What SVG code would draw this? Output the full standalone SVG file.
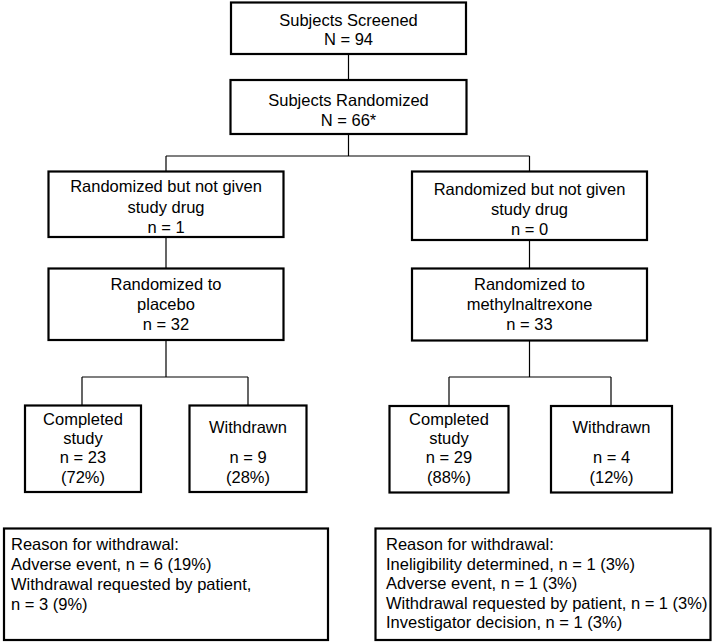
<svg xmlns="http://www.w3.org/2000/svg" width="713" height="642" viewBox="0 0 713 642">
<style>
.box{fill:#fff;stroke:#000;stroke-width:2.2}
.ln{fill:none;stroke:#000;stroke-width:1.2}
text{font-family:"Liberation Sans",Arial,sans-serif;font-size:16.5px;fill:#000}
.c{text-anchor:middle}
</style>
<rect width="713" height="642" fill="#fff"/>
<g id="connectors">
<path class="ln" d="M348.5 54V79M348.5 135V156M166 156H529.5M166 156V171M529.5 156V171M166 237V268M529.5 240V268M166 340V377M82 377H248M82 377V405M248 377V405M529.5 341V377M449 377H611M449 377V406M611 377V406"/>
</g>
<g id="screened">
<rect class="box" x="231" y="2.5" width="235" height="51.5"/>
<text class="c" x="348.5" y="25.5">Subjects Screened</text>
<text class="c" x="348.5" y="44.5">N = 94</text>
</g>
<g id="randomized">
<rect class="box" x="230.5" y="80" width="236" height="54"/>
<text class="c" x="348.5" y="106">Subjects Randomized</text>
<text class="c" x="348.5" y="125.5">N = 66*</text>
</g>
<g id="notgivenL">
<rect class="box" x="48.5" y="171.5" width="235" height="65.5"/>
<text class="c" x="166" y="192">Randomized but not given</text>
<text class="c" x="166" y="212.5">study drug</text>
<text class="c" x="166" y="232.5">n = 1</text>
</g>
<g id="notgivenR">
<rect class="box" x="412" y="171.5" width="235" height="68.5"/>
<text class="c" x="529.5" y="195">Randomized but not given</text>
<text class="c" x="529.5" y="215">study drug</text>
<text class="c" x="529.5" y="235">n = 0</text>
</g>
<g id="placebo">
<rect class="box" x="48.5" y="268.5" width="235" height="71.5"/>
<text class="c" x="166" y="289.5">Randomized to</text>
<text class="c" x="166" y="309.5">placebo</text>
<text class="c" x="166" y="329.5">n = 32</text>
</g>
<g id="mntx">
<rect class="box" x="412" y="268.5" width="235" height="72"/>
<text class="c" x="529.5" y="289.5">Randomized to</text>
<text class="c" x="529.5" y="309.5">methylnaltrexone</text>
<text class="c" x="529.5" y="329.5">n = 33</text>
</g>
<g id="completedL">
<rect class="box" x="25" y="405.5" width="116" height="86.5"/>
<text class="c" x="83" y="425">Completed</text>
<text class="c" x="83" y="444">study</text>
<text class="c" x="83" y="463">n = 23</text>
<text class="c" x="83" y="482.5">(72%)</text>
</g>
<g id="withdrawnL">
<rect class="box" x="189.5" y="405.5" width="117" height="86.5"/>
<text class="c" x="248" y="432.5">Withdrawn</text>
<text class="c" x="248" y="463">n = 9</text>
<text class="c" x="248" y="482.5">(28%)</text>
</g>
<g id="completedR">
<rect class="box" x="389.5" y="406" width="119" height="86.5"/>
<text class="c" x="449" y="425">Completed</text>
<text class="c" x="449" y="444">study</text>
<text class="c" x="449" y="463">n = 29</text>
<text class="c" x="449" y="482.5">(88%)</text>
</g>
<g id="withdrawnR">
<rect class="box" x="551" y="406" width="121" height="86.5"/>
<text class="c" x="611.5" y="432.5">Withdrawn</text>
<text class="c" x="611.5" y="463">n = 4</text>
<text class="c" x="611.5" y="482.5">(12%)</text>
</g>
<g id="reasonL">
<rect class="box" x="4" y="528.5" width="324" height="111.5"/>
<text x="11" y="549.5">Reason for withdrawal:</text>
<text x="11" y="569.5">Adverse event, n = 6 (19%)</text>
<text x="11" y="589.5">Withdrawal requested by patient,</text>
<text x="11" y="609.5">n = 3 (9%)</text>
</g>
<g id="reasonR">
<rect class="box" x="375.5" y="528.5" width="335" height="111.5"/>
<text x="386" y="550">Reason for withdrawal:</text>
<text x="386" y="569.5">Ineligibility determined, n = 1 (3%)</text>
<text x="386" y="589">Adverse event, n = 1 (3%)</text>
<text x="386" y="608.5">Withdrawal requested by patient, n = 1 (3%)</text>
<text x="386" y="628">Investigator decision, n = 1 (3%)</text>
</g>
</svg>
